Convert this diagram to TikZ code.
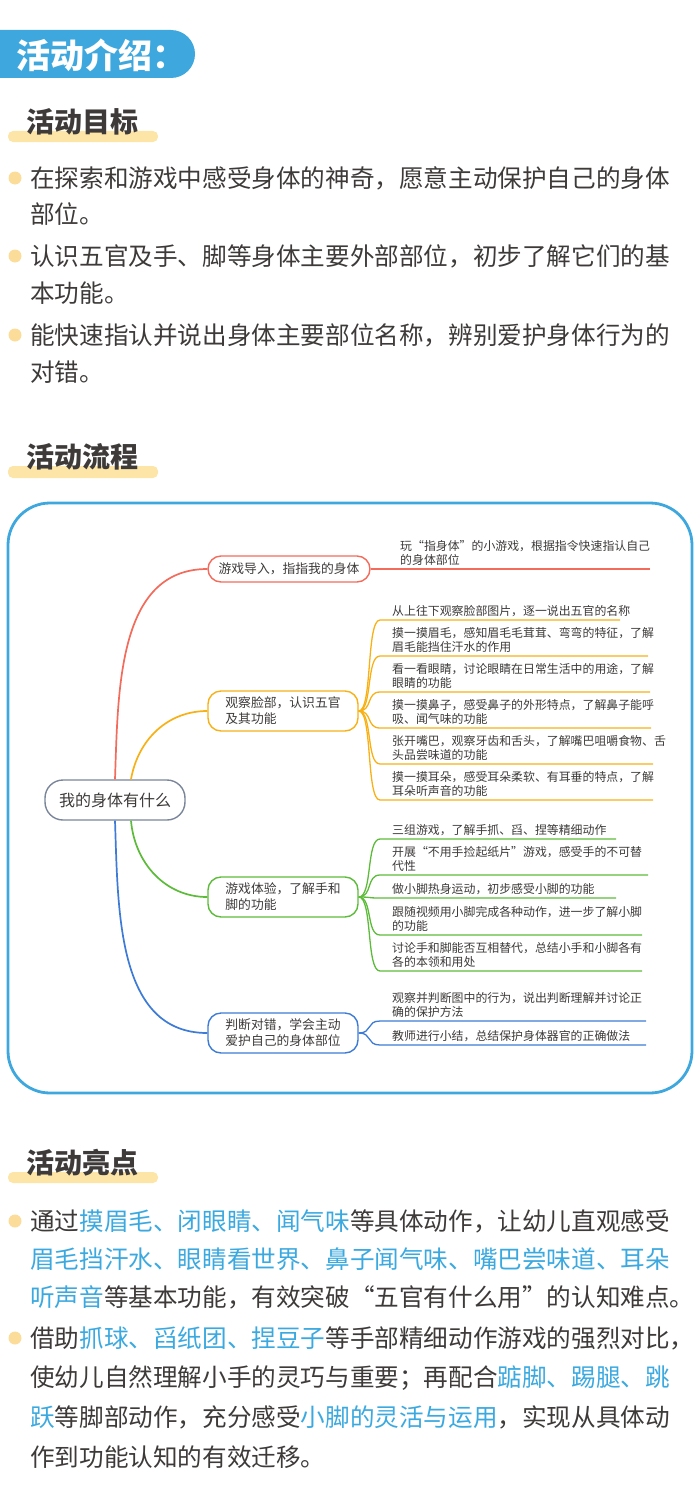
\documentclass[tikz,border=0pt]{standalone}
\usepackage{fontspec}
\setmainfont{Noto Sans CJK SC}
\XeTeXlinebreaklocale "zh"
\usetikzlibrary{positioning}
\definecolor{tabblue}{HTML}{3EA8DE}
\definecolor{hiblue}{HTML}{3BA9E0}
\definecolor{barYellow}{HTML}{FDE5A8}
\definecolor{dotYellow}{HTML}{FBDC98}
\definecolor{ink}{HTML}{3D3A39}
\definecolor{mmRed}{HTML}{F26B5B}
\definecolor{mmOrange}{HTML}{F7B117}
\definecolor{mmGreen}{HTML}{5DBB3A}
\definecolor{mmBlue}{HTML}{3D7BD6}
\definecolor{mmGray}{HTML}{7A8599}
\newcommand{\hl}[1]{\textcolor{hiblue}{#1}}

\begin{document}
\begin{tikzpicture}[x=1pt,y=-1pt,
    heading/.style={anchor=west,inner sep=0pt,font=\fontsize{28}{28}\selectfont\bfseries,text=ink},
    body/.style={anchor=west,inner sep=0pt,font=\fontsize{24.6}{24.6}\selectfont,text=ink},
    dot/.style={circle,fill=dotYellow,inner sep=0pt,minimum size=13pt},
    branch/.style={draw,line width=1.4pt,rounded corners=13pt,align=left,font=\fontsize{12.8}{16}\selectfont,text=ink,inner xsep=10pt},
    leaf/.style={anchor=south west,align=left,inner xsep=12pt,inner ysep=3pt,font=\fontsize{11.9}{14}\selectfont,text=ink},
    mm/.style={line width=1.7pt}]
  \useasboundingbox (0,0) rectangle (700,1501);
  % header
  \fill[tabblue] (0,30) -- (171,30) arc[start angle=-90,end angle=90,radius=24] -- (0,78) -- cycle;
  \node[anchor=west,inner sep=0pt,text=white,font=\fontsize{34}{34}\selectfont\bfseries] (title) at (16,55) {活动介绍：};
  % activity goals
  \fill[barYellow,rounded corners=5pt] (8,131) rectangle (158,142);
  \node[heading] (goals) at (26,122) {活动目标};
  \foreach \y in {178,256,335} \node[dot] at (15,\y) {};
  \node[body] (g1a) at (30,178) {在探索和游戏中感受身体的神奇，愿意主动保护自己的身体};
  \node[body] (g1b) at (30,214) {部位。};
  \node[body] (g2a) at (30,256) {认识五官及手、脚等身体主要外部部位，初步了解它们的基};
  \node[body] (g2b) at (30,293) {本功能。};
  \node[body] (g3a) at (30,335) {能快速指认并说出身体主要部位名称，辨别爱护身体行为的};
  \node[body] (g3b) at (30,372) {对错。};
  % activity flow
  \fill[barYellow,rounded corners=5pt] (8,466) rectangle (158,478);
  \node[heading] (flow) at (26,457) {活动流程};
  \draw[tabblue,line width=2.8pt,rounded corners=42pt] (8,503) rectangle (692,1093);
  % mind map
  \node[draw=mmGray,line width=1.4pt,rounded corners=18pt,minimum width=140pt,minimum height=40pt,
        font=\fontsize{16}{16}\selectfont,text=ink] (root) at (115,800) {我的身体有什么};
  \node[branch,draw=mmRed,minimum width=162pt,minimum height=26pt] (intro) at (289,569) {游戏导入，指指我的身体};
  \node[branch,draw=mmOrange,minimum width=150pt,minimum height=40pt] (face) at (283,711) {观察脸部，认识五官\\及其功能};
  \node[branch,draw=mmGreen,minimum width=150pt,minimum height=40pt] (limbs) at (283,897) {游戏体验，了解手和\\脚的功能};
  \node[branch,draw=mmBlue,minimum width=150pt,minimum height=40pt] (judge) at (283,1033) {判断对错，学会主动\\爱护自己的身体部位};
  \draw[mm,mmRed] (root.north) to[out=88,in=180] (intro.west);
  \draw[mm,mmOrange] ([xshift=16pt]root.north) to[out=80,in=180] (face.west);
  \draw[mm,mmGreen] ([xshift=16pt]root.south) to[out=-85,in=180] (limbs.west);
  \draw[mm,mmBlue] (root.south) to[out=-88,in=180] (judge.west);
  % red leaf
  \node[leaf] (i1) at (388,569) {玩“指身体”的小游戏，根据指令快速指认自己\\的身体部位};
  \draw[mm,mmRed] (intro.east) -- (i1.south west) -- ++(262,0);
  % orange leaves
  \foreach \n/\y/\w/\t in {f1/620/240/{从上往下观察脸部图片，逐一说出五官的名称},
      f2/656/268/{摸一摸眉毛，感知眉毛毛茸茸、弯弯的特征，了解\\眉毛能挡住汗水的作用},
      f3/692/270/{看一看眼睛，讨论眼睛在日常生活中的用途，了解\\眼睛的功能},
      f4/728/271/{摸一摸鼻子，感受鼻子的外形特点，了解鼻子能呼\\吸、闻气味的功能},
      f5/764/273/{张开嘴巴，观察牙齿和舌头，了解嘴巴咀嚼食物、舌\\头品尝味道的功能},
      f6/800/273/{摸一摸耳朵，感受耳朵柔软、有耳垂的特点，了解\\耳朵听声音的功能}}{
    \node[leaf] (\n) at (380,\y) {\t};
    \draw[mm,mmOrange,line width=1.3pt] (face.east) .. controls +(14,0) and +(-14,0) .. (\n.south west) -- ++(\w,0);
  }
  % green leaves
  \foreach \n/\y/\w/\t in {l1/839/236/{三组游戏，了解手抓、舀、捏等精细动作},
      l2/875/268/{开展“不用手捡起纸片”游戏，感受手的不可替\\代性},
      l3/898/236/{做小脚热身运动，初步感受小脚的功能},
      l4/935/262/{跟随视频用小脚完成各种动作，进一步了解小脚\\的功能},
      l5/971/262/{讨论手和脚能否互相替代，总结小手和小脚各有\\各的本领和用处}}{
    \node[leaf] (\n) at (380,\y) {\t};
    \draw[mm,mmGreen,line width=1.3pt] (limbs.east) .. controls +(14,0) and +(-14,0) .. (\n.south west) -- ++(\w,0);
  }
  % blue leaves
  \foreach \n/\y/\w/\t in {j1/1021/266/{观察并判断图中的行为，说出判断理解并讨论正\\确的保护方法},
      j2/1045/266/{教师进行小结，总结保护身体器官的正确做法}}{
    \node[leaf] (\n) at (380,\y) {\t};
    \draw[mm,mmBlue,line width=1.3pt] (judge.east) .. controls +(14,0) and +(-14,0) .. (\n.south west) -- ++(\w,0);
  }
  % highlights
  \fill[barYellow,rounded corners=5pt] (8,1172) rectangle (158,1183);
  \node[heading] (high) at (26,1163) {活动亮点};
  \foreach \y in {1221,1338} \node[dot] at (15,\y) {};
  \node[body] (h1a) at (30,1221) {通过\hl{摸眉毛、闭眼睛、闻气味}等具体动作，让幼儿直观感受};
  \node[body] (h1b) at (30,1259) {\hl{眉毛挡汗水、眼睛看世界、鼻子闻气味、嘴巴尝味道、耳朵}};
  \node[body] (h1c) at (30,1297) {\hl{听声音}等基本功能，有效突破“五官有什么用”的认知难点。};
  \node[body] (h2a) at (30,1338) {借助\hl{抓球、舀纸团、捏豆子}等手部精细动作游戏的强烈对比，};
  \node[body] (h2b) at (30,1378) {使幼儿自然理解小手的灵巧与重要；再配合\hl{踮脚、踢腿、跳}};
  \node[body] (h2c) at (30,1417) {\hl{跃}等脚部动作，充分感受\hl{小脚的灵活与运用}，实现从具体动};
  \node[body] (h2d) at (30,1457) {作到功能认知的有效迁移。};
\end{tikzpicture}
\end{document}
